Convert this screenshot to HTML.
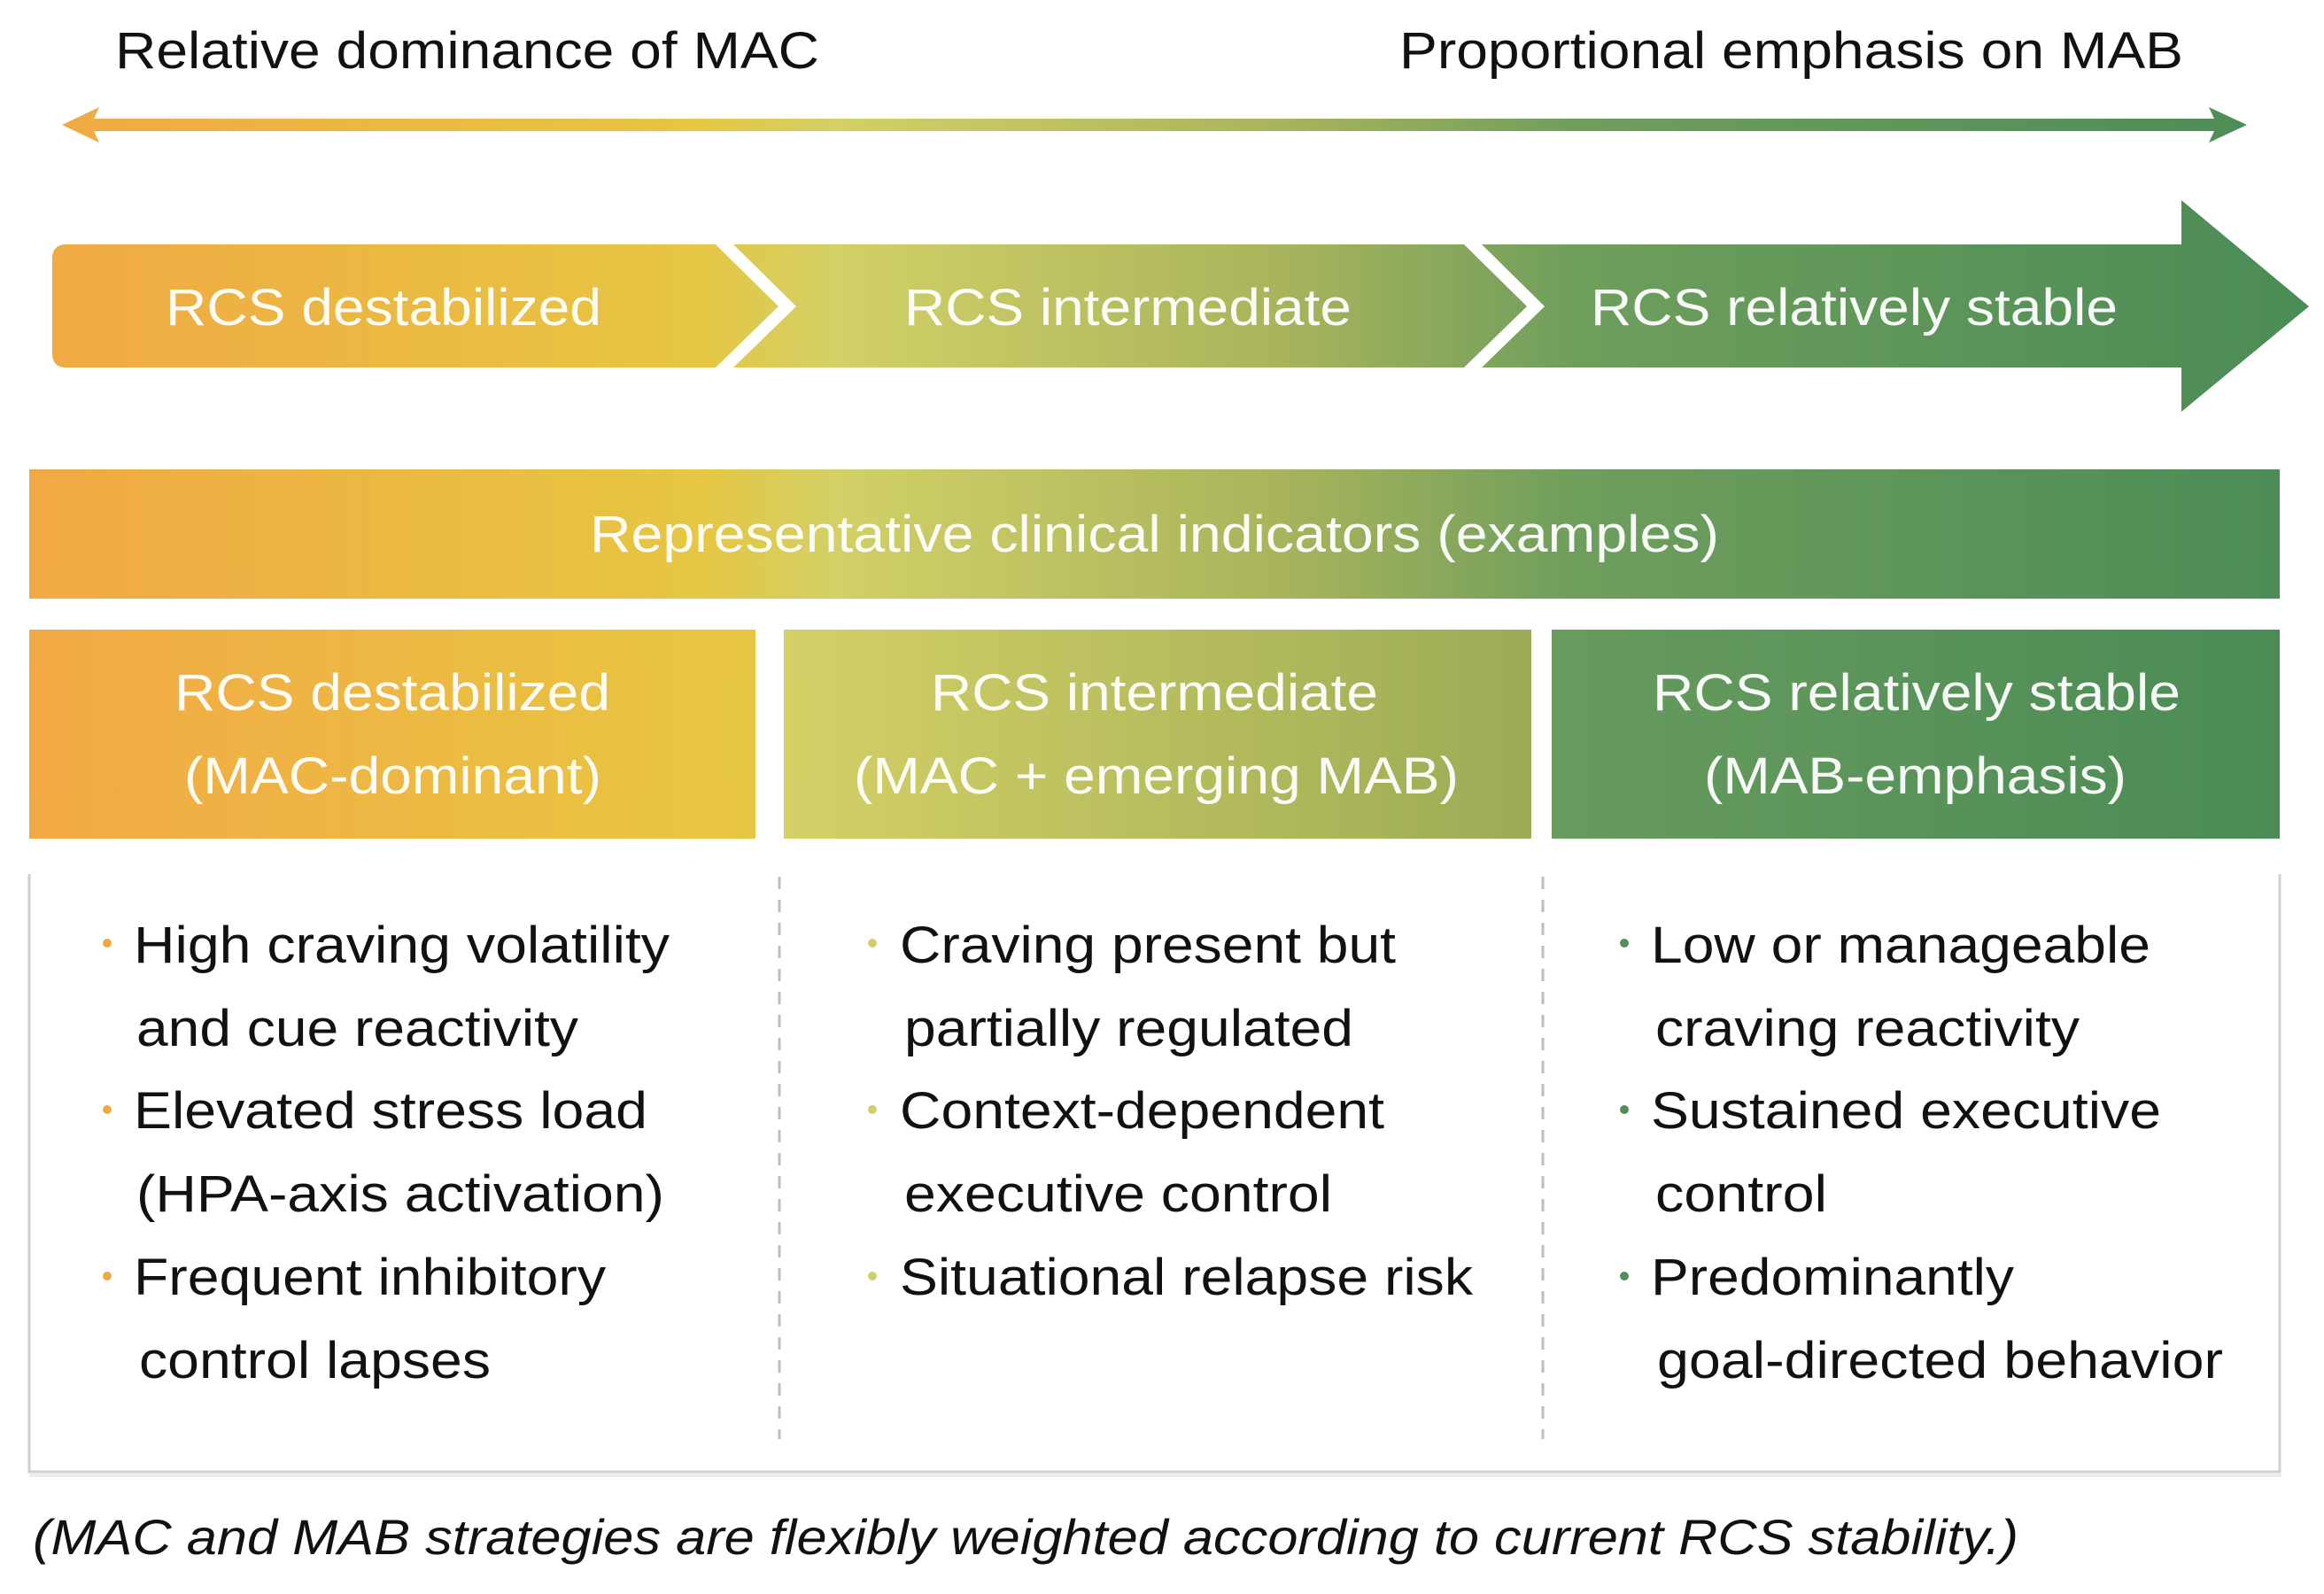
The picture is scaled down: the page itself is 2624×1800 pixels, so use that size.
<!DOCTYPE html>
<html><head><meta charset="utf-8"><style>html,body{margin:0;padding:0;background:#fff}svg{display:block}</style></head>
<body>
<svg width="2624" height="1800" viewBox="0 0 2624 1800" xmlns="http://www.w3.org/2000/svg" font-family="Liberation Sans, sans-serif">
<defs>
<linearGradient id="g1" x1="0" x2="2624" y1="0" y2="0" gradientUnits="userSpaceOnUse">
<stop offset="0" stop-color="#f1a743"/>
<stop offset="0.3" stop-color="#e6c642"/>
<stop offset="0.36" stop-color="#d2d066"/>
<stop offset="0.55" stop-color="#a9b45c"/>
<stop offset="0.68" stop-color="#6e9e5c"/>
<stop offset="1" stop-color="#4a8b56"/>
</linearGradient>
<linearGradient id="h1" x1="33" x2="853" y1="0" y2="0" gradientUnits="userSpaceOnUse"><stop offset="0" stop-color="#f2a945"/><stop offset="1" stop-color="#e7c741"/></linearGradient>
<linearGradient id="h2" x1="885" x2="1729" y1="0" y2="0" gradientUnits="userSpaceOnUse"><stop offset="0" stop-color="#d4d066"/><stop offset="1" stop-color="#9cab56"/></linearGradient>
<linearGradient id="h3" x1="1752" x2="2574" y1="0" y2="0" gradientUnits="userSpaceOnUse"><stop offset="0" stop-color="#689b5d"/><stop offset="1" stop-color="#4a8b56"/></linearGradient>
</defs>

<!-- top labels -->
<text x="130" y="77" font-size="58" fill="#111" textLength="795" lengthAdjust="spacingAndGlyphs">Relative dominance of MAC</text>
<text x="1580" y="77" font-size="58" fill="#111" textLength="885" lengthAdjust="spacingAndGlyphs">Proportional emphasis on MAB</text>

<!-- double arrow -->
<polygon points="70,141 112,121 106,134 2500,134 2494,121 2537,141 2494,161 2500,148 106,148 112,161" fill="url(#g1)"/>

<!-- chevrons -->
<path d="M75,276 L808,276 L879,346 L808,415 L75,415 Q59,415 59,399 L59,292 Q59,276 75,276 Z" fill="url(#g1)"/>
<polygon points="828,276 1653,276 1724,346 1653,415 828,415 899,346" fill="url(#g1)"/>
<polygon points="1673,276 2463,276 2463,226 2607,346 2463,465 2463,415 1673,415 1744,346" fill="url(#g1)"/>
<g fill="#fff" font-size="58" fill-opacity="0.95">
<text x="187" y="367" textLength="492" lengthAdjust="spacingAndGlyphs">RCS destabilized</text>
<text x="1021" y="367" textLength="505" lengthAdjust="spacingAndGlyphs">RCS intermediate</text>
<text x="1796" y="367" textLength="595" lengthAdjust="spacingAndGlyphs">RCS relatively stable</text>
</g>

<!-- banner -->
<rect x="33" y="530" width="2541" height="146" fill="url(#g1)"/>
<text x="666" y="623" font-size="58" fill="#fff" fill-opacity="0.95" textLength="1275" lengthAdjust="spacingAndGlyphs">Representative clinical indicators (examples)</text>

<!-- headers -->
<rect x="33" y="711" width="820" height="236" fill="url(#h1)"/>
<rect x="885" y="711" width="844" height="236" fill="url(#h2)"/>
<rect x="1752" y="711" width="822" height="236" fill="url(#h3)"/>
<g fill="#fff" font-size="58" fill-opacity="0.95">
<text x="197" y="802" textLength="492" lengthAdjust="spacingAndGlyphs">RCS destabilized</text>
<text x="208" y="896" textLength="471" lengthAdjust="spacingAndGlyphs">(MAC-dominant)</text>
<text x="1051" y="802" textLength="505" lengthAdjust="spacingAndGlyphs">RCS intermediate</text>
<text x="964" y="896" textLength="683" lengthAdjust="spacingAndGlyphs">(MAC + emerging MAB)</text>
<text x="1866" y="802" textLength="596" lengthAdjust="spacingAndGlyphs">RCS relatively stable</text>
<text x="1924" y="896" textLength="477" lengthAdjust="spacingAndGlyphs">(MAB-emphasis)</text>
</g>

<!-- content box -->
<rect x="33" y="1664" width="2543" height="4" fill="#ececec"/>
<path d="M33,987 L33,1662 L2574,1662 L2574,987" fill="#fff" stroke="#cfcfcf" stroke-width="3"/>
<line x1="880" y1="990" x2="880" y2="1625" stroke="#bdbdbd" stroke-width="3" stroke-dasharray="14,12"/>
<line x1="1742" y1="990" x2="1742" y2="1625" stroke="#bdbdbd" stroke-width="3" stroke-dasharray="14,12"/>

<g font-size="58" fill="#111">
<circle cx="121" cy="1065" r="5" fill="#eea844"/>
<text x="151" y="1087" textLength="605" lengthAdjust="spacingAndGlyphs">High craving volatility</text>
<text x="154" y="1181" textLength="499" lengthAdjust="spacingAndGlyphs">and cue reactivity</text>
<circle cx="121" cy="1253" r="5" fill="#eea844"/>
<text x="151" y="1274" textLength="580" lengthAdjust="spacingAndGlyphs">Elevated stress load</text>
<text x="154" y="1368" textLength="596" lengthAdjust="spacingAndGlyphs">(HPA-axis activation)</text>
<circle cx="121" cy="1441" r="5" fill="#eea844"/>
<text x="151" y="1462" textLength="533" lengthAdjust="spacingAndGlyphs">Frequent inhibitory</text>
<text x="157" y="1556" textLength="397" lengthAdjust="spacingAndGlyphs">control lapses</text>

<circle cx="985" cy="1065" r="5" fill="#cfd06a"/>
<text x="1016" y="1087" textLength="560" lengthAdjust="spacingAndGlyphs">Craving present but</text>
<text x="1021" y="1181" textLength="507" lengthAdjust="spacingAndGlyphs">partially regulated</text>
<circle cx="985" cy="1253" r="5" fill="#cfd06a"/>
<text x="1016" y="1274" textLength="547" lengthAdjust="spacingAndGlyphs">Context-dependent</text>
<text x="1021" y="1368" textLength="483" lengthAdjust="spacingAndGlyphs">executive control</text>
<circle cx="985" cy="1441" r="5" fill="#cfd06a"/>
<text x="1016" y="1462" textLength="647" lengthAdjust="spacingAndGlyphs">Situational relapse risk</text>

<circle cx="1834" cy="1065" r="5" fill="#4f8e58"/>
<text x="1864" y="1087" textLength="564" lengthAdjust="spacingAndGlyphs">Low or manageable</text>
<text x="1869" y="1181" textLength="479" lengthAdjust="spacingAndGlyphs">craving reactivity</text>
<circle cx="1834" cy="1253" r="5" fill="#4f8e58"/>
<text x="1864" y="1274" textLength="576" lengthAdjust="spacingAndGlyphs">Sustained executive</text>
<text x="1869" y="1368" textLength="194" lengthAdjust="spacingAndGlyphs">control</text>
<circle cx="1834" cy="1441" r="5" fill="#4f8e58"/>
<text x="1864" y="1462" textLength="410" lengthAdjust="spacingAndGlyphs">Predominantly</text>
<text x="1871" y="1556" textLength="639" lengthAdjust="spacingAndGlyphs">goal-directed behavior</text>
</g>

<text x="37" y="1755" font-size="56" font-style="italic" fill="#111" textLength="2242" lengthAdjust="spacingAndGlyphs">(MAC and MAB strategies are flexibly weighted according to current RCS stability.)</text>
</svg>
</body></html>
